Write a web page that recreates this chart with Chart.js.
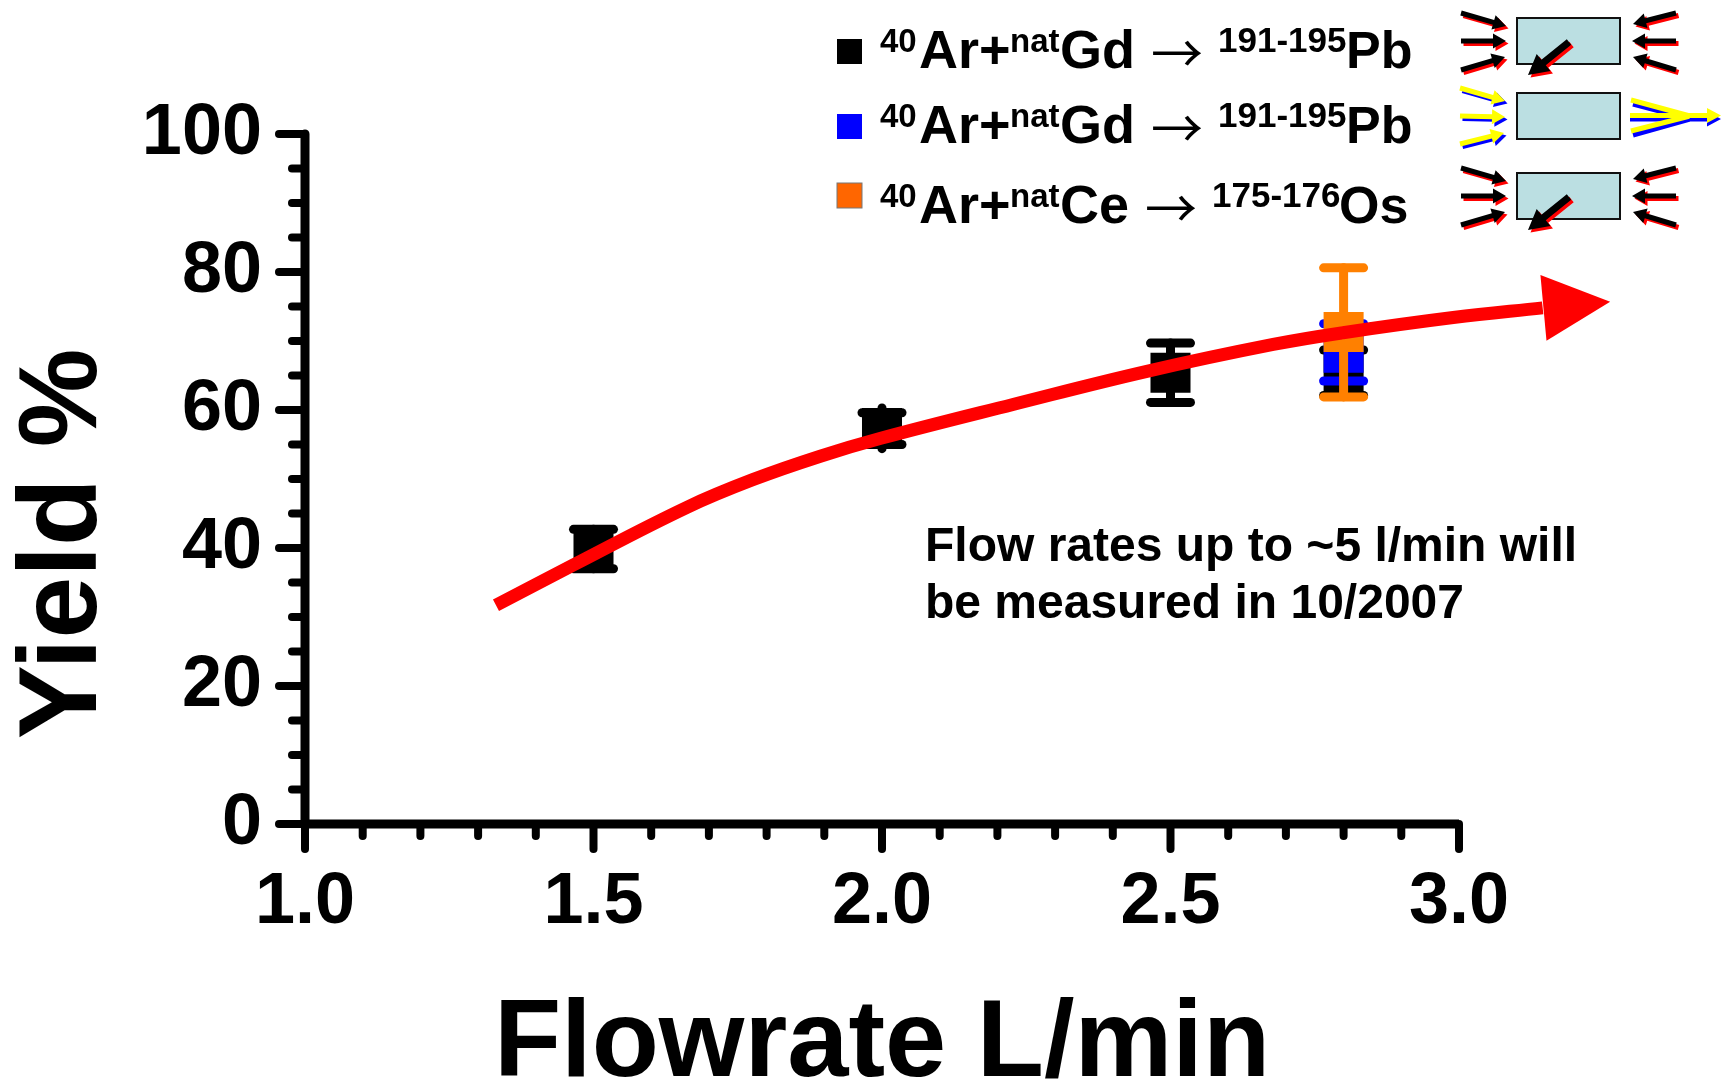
<!DOCTYPE html>
<html>
<head>
<meta charset="utf-8">
<title>Yield vs flowrate</title>
<script src="https://cdn.jsdelivr.net/npm/chart.js@4"></script>
<style>
  body { margin: 0; background: #fff; }
  canvas { display: block; }
</style>
</head>
<body>
<canvas id="yield-chart" width="1721" height="1089"></canvas>
<script>
const xTickLabels = ["1.0", "1.5", "2.0", "2.5", "3.0"];
const yTickLabels = ["0", "20", "40", "60", "80", "100"];

// 40Ar+natGd, first target
const blackX = [1.5, 2.0, 2.5, 2.8];
const blackY = [39.9, 57.4, 65.4, 65.4];
const blackHigh = [42.7, 59.6, 69.7, 68.7];
const blackLow = [37.0, 55.0, 61.1, 62.1];
const blackStemHigh = [42.7, 60.3, 69.7, 68.7];
const blackStemLow = [37.0, 54.4, 61.1, 62.1];

// 40Ar+natGd, second target
const blueX = [2.8];
const blueY = [68.3];
const blueHigh = [72.5];
const blueLow = [64.2];

// 40Ar+natCe
const orangeX = [2.8];
const orangeY = [71.3];
const orangeHigh = [80.6];
const orangeLow = [61.9];

// hand drawn trend line, only one point may sit past the axis end
const curveX = [1.331, 1.464, 1.662, 1.776, 1.893, 1.998, 2.227, 2.459, 2.678, 2.799, 2.99, 3.145];
const curveY = [31.7, 37.5, 45.9, 49.9, 53.3, 55.9, 60.8, 65.6, 69.5, 71.2, 73.4, 74.8];
const curveTip = [3.262, 75.7];

const note = ["Flow rates up to ~5 l/min will", "be measured in 10/2007"];

const sansBold = (size) => `bold ${size}px "Liberation Sans"`;
const red = "#ff0000";
const black = "#000000";
const blue = "#0000ff";
const orange = "#ff8000";

const toPoints = (xs, ys) => xs.map((x, i) => ({ x: x, y: ys[i] }));

const errorBars = [
  { color: orange, xs: orangeX, high: orangeHigh, low: orangeLow },
  { color: blue, xs: blueX, high: blueHigh, low: blueLow },
  { color: black, xs: blackX, high: blackHigh, low: blackLow, stemHigh: blackStemHigh, stemLow: blackStemLow },
];

const strokeLine = (ctx, x1, y1, x2, y2, color, width, cap) => {
  ctx.beginPath();
  ctx.moveTo(x1, y1);
  ctx.lineTo(x2, y2);
  ctx.strokeStyle = color;
  ctx.lineWidth = width;
  ctx.lineCap = cap || "round";
  ctx.stroke();
};

// axis lines and rounded ticks, placed by the scales
const axesPlugin = {
  id: "axes",
  beforeDatasetsDraw(chart) {
    const { ctx, scales } = chart;
    const x0 = scales.x.getPixelForValue(1);
    const y0 = scales.y.getPixelForValue(0);
    scales.x.ticks.forEach((t) => {
      const px = scales.x.getPixelForValue(t.value);
      strokeLine(ctx, px, y0, px, y0 + (t.label ? 25 : 12), black, 8);
    });
    scales.y.ticks.forEach((t) => {
      const py = scales.y.getPixelForValue(t.value);
      strokeLine(ctx, x0, py, x0 - (t.label ? 26 : 13), py, black, 8);
    });
    strokeLine(ctx, x0, y0, scales.x.right, y0, black, 9, "butt");
    strokeLine(ctx, x0, y0, x0, scales.y.top, black, 9);
  },
};

const errorPlugin = {
  id: "errors",
  beforeDatasetDraw(chart, args) {
    const bars = errorBars[args.index - 1];
    if (!bars) return;
    const { ctx, scales } = chart;
    bars.xs.forEach((x, i) => {
      const px = scales.x.getPixelForValue(x);
      const top = scales.y.getPixelForValue(bars.high[i]);
      const bottom = scales.y.getPixelForValue(bars.low[i]);
      const stemTop = bars.stemHigh ? scales.y.getPixelForValue(bars.stemHigh[i]) : top;
      const stemBottom = bars.stemLow ? scales.y.getPixelForValue(bars.stemLow[i]) : bottom;
      strokeLine(ctx, px, stemTop, px, stemBottom, bars.color, 9);
      strokeLine(ctx, px - 20, top, px + 20, top, bars.color, 9);
      strokeLine(ctx, px - 20, bottom, px + 20, bottom, bars.color, 9);
    });
  },
};

const arrowHeadPlugin = {
  id: "arrowHead",
  afterDatasetsDraw(chart) {
    const { ctx, scales } = chart;
    const last = curveX.length - 1;
    const fromX = scales.x.getPixelForValue(curveX[last]);
    const fromY = scales.y.getPixelForValue(curveY[last]);
    const tipX = scales.x.getPixelForValue(curveTip[0]);
    const tipY = scales.y.getPixelForValue(curveTip[1]);
    const len = Math.hypot(tipX - fromX, tipY - fromY);
    const ux = (tipX - fromX) / len;
    const uy = (tipY - fromY) / len;
    const baseX = tipX - 67 * ux;
    const baseY = tipY - 67 * uy;
    ctx.beginPath();
    ctx.moveTo(tipX, tipY);
    ctx.lineTo(baseX - 33 * uy, baseY + 33 * ux);
    ctx.lineTo(baseX + 33 * uy, baseY - 33 * ux);
    ctx.closePath();
    ctx.fillStyle = red;
    ctx.fill();
  },
};

// ---- key and target sketches ----
const drawArrow = (ctx, tail, tip, color, shaft, headW, headL) => {
  const len = Math.hypot(tip[0] - tail[0], tip[1] - tail[1]);
  const ux = (tip[0] - tail[0]) / len;
  const uy = (tip[1] - tail[1]) / len;
  const bx = tip[0] - headL * ux;
  const by = tip[1] - headL * uy;
  ctx.beginPath();
  ctx.moveTo(tail[0] - (uy * shaft) / 2, tail[1] + (ux * shaft) / 2);
  ctx.lineTo(bx - (uy * shaft) / 2, by + (ux * shaft) / 2);
  ctx.lineTo(bx - (uy * headW) / 2, by + (ux * headW) / 2);
  ctx.lineTo(tip[0], tip[1]);
  ctx.lineTo(bx + (uy * headW) / 2, by - (ux * headW) / 2);
  ctx.lineTo(bx + (uy * shaft) / 2, by - (ux * shaft) / 2);
  ctx.lineTo(tail[0] + (uy * shaft) / 2, tail[1] - (ux * shaft) / 2);
  ctx.closePath();
  ctx.fillStyle = color;
  ctx.fill();
};

const shadowArrow = (ctx, tail, tip, color, shadow, shaft, headW, headL) => {
  const t = [tail[0] + 2.5, tail[1] + 2.5];
  const h = [tip[0] + 2.5, tip[1] + 2.5];
  drawArrow(ctx, t, h, shadow, shaft, headW, headL);
  drawArrow(ctx, tail, tip, color, shaft, headW, headL);
};

const inArrows = [
  [[1461, 13], [1506, 26]],
  [[1461, 41], [1506, 41]],
  [[1461, 70], [1505, 57]],
];
const outArrows = [
  [[1676, 13], [1633, 24]],
  [[1676, 41], [1632, 41]],
  [[1676, 70], [1633, 57]],
];

const drawTarget = (ctx, top, height) => {
  ctx.fillStyle = "#bbdfe2";
  ctx.fillRect(1517, top, 103, height);
  ctx.strokeStyle = "#111";
  ctx.lineWidth = 2;
  ctx.strokeRect(1517, top, 103, height);
};

const drawStopped = (ctx, dy) => {
  drawTarget(ctx, 18 + dy, 46);
  inArrows.concat(outArrows).forEach(([a, b]) => {
    shadowArrow(ctx, [a[0], a[1] + dy], [b[0], b[1] + dy], black, red, 5, 15, 13);
  });
  shadowArrow(ctx, [1569, 42 + dy], [1528, 75 + dy], black, red, 7, 22, 20);
};

const drawFlowThrough = (ctx) => {
  drawTarget(ctx, 93, 46);
  const yellow = "#ffff00";
  [
    [[1460, 88], [1505, 101]],
    [[1460, 116], [1505, 117]],
    [[1460, 144], [1504, 133]],
  ].forEach(([a, b]) => shadowArrow(ctx, a, b, yellow, blue, 5, 15, 13));
  const tail = [
    [[1631, 100], [1690, 116]],
    [[1631, 131], [1690, 116]],
  ];
  tail.forEach(([a, b]) => drawArrow(ctx, [a[0] + 2, a[1] + 4], [b[0], b[1] + 3], blue, 5, 5, 1));
  drawArrow(ctx, [1630, 119], [1721, 119], blue, 5, 15, 14);
  tail.forEach(([a, b]) => drawArrow(ctx, a, b, yellow, 5, 5, 1));
  drawArrow(ctx, [1630, 115.5], [1721, 115.5], yellow, 5, 15, 14);
};

const keyRows = [
  { color: "#000000", top: 39, base: 68, parts: ["40", "Ar+", "nat", "Gd", "\u2192", "191-195", "Pb"], at: [880, 919, 1010, 1060, 1152, 1218, 1346] },
  { color: "#0000ff", top: 114, base: 143, parts: ["40", "Ar+", "nat", "Gd", "\u2192", "191-195", "Pb"], at: [880, 919, 1010, 1060, 1152, 1218, 1346] },
  { color: "#ff6600", top: 183, base: 223, parts: ["40", "Ar+", "nat", "Ce", "\u2192", "175-176", "Os"], at: [880, 919, 1010, 1060, 1146, 1212, 1339] },
];

const keyPlugin = {
  id: "key",
  afterDraw(chart) {
    const { ctx } = chart;
    ctx.save();
    ctx.textAlign = "left";
    ctx.textBaseline = "alphabetic";

    keyRows.forEach((row) => {
      ctx.fillStyle = row.color;
      ctx.fillRect(837, row.top, 25, 25);
      if (row.color === "#ff6600") {
        ctx.strokeStyle = "#777";
        ctx.lineWidth = 1;
        ctx.strokeRect(837, row.top, 25, 25);
      }
      ctx.fillStyle = black;
      row.parts.forEach((part, i) => {
        if (i === 4) {
          ctx.font = '52px "Noto Sans CJK SC"';
          ctx.fillText(part, row.at[i] - 1, row.base + 5);
        } else if (i === 5) {
          ctx.font = sansBold(35);
          ctx.fillText(part, row.at[i], row.base - 16);
        } else if (i === 0 || i === 2) {
          ctx.font = sansBold(33);
          ctx.fillText(part, row.at[i], row.base - 16);
        } else {
          ctx.font = sansBold(i === 6 ? 52 : 54);
          ctx.fillText(part, row.at[i], row.base);
        }
      });
    });

    drawStopped(ctx, 0);
    drawFlowThrough(ctx);
    drawStopped(ctx, 155);

    ctx.fillStyle = black;
    ctx.font = sansBold(48);
    ctx.fillText(note[0], 925, 561);
    ctx.fillText(note[1], 925, 618);

    ctx.translate(96, 544);
    ctx.rotate(-Math.PI / 2);
    ctx.textAlign = "center";
    ctx.font = sansBold(111);
    ctx.fillText("Yield %", 0, 0);
    ctx.restore();
  },
};

const config = {
  type: "scatter",
  data: {
    datasets: [
      {
        label: "Trend",
        data: toPoints(curveX, curveY),
        showLine: true,
        borderColor: red,
        borderWidth: 13,
        borderCapStyle: "butt",
        pointRadius: 0,
        tension: 0.4,
        clip: false,
      },
      {
        label: "40Ar+natCe",
        data: toPoints(orangeX, orangeY),
        backgroundColor: orange,
        borderWidth: 0,
        pointStyle: "rect",
        pointRadius: 28.3,
        clip: false,
      },
      {
        label: "40Ar+natGd open",
        data: toPoints(blueX, blueY),
        backgroundColor: blue,
        borderWidth: 0,
        pointStyle: "rect",
        pointRadius: 28.3,
        clip: false,
      },
      {
        label: "40Ar+natGd",
        data: toPoints(blackX, blackY),
        backgroundColor: black,
        borderWidth: 0,
        pointStyle: "rect",
        pointRadius: 28.3,
        clip: false,
      },
    ],
  },
  options: {
    responsive: false,
    animation: false,
    layout: { padding: { top: 134, right: 262 } },
    plugins: {
      legend: { display: false },
      tooltip: { enabled: false },
    },
    scales: {
      x: {
        type: "linear",
        min: 1,
        max: 3,
        afterFit: (scale) => {
          scale.height = 265;
        },
        border: { display: false },
        grid: { display: false, drawTicks: false },
        ticks: {
          stepSize: 0.1,
          autoSkip: false,
          maxRotation: 0,
          padding: 36,
          color: black,
          font: { family: "Liberation Sans", weight: "bold", size: 72 },
          callback: (value) => xTickLabels.find((l) => Math.abs(Number(l) - value) < 1e-6) || "",
        },
        title: {
          display: true,
          text: "Flowrate L/min",
          color: black,
          font: { family: "Liberation Sans", weight: "bold", size: 110, lineHeight: 0.78 },
          padding: 0,
        },
      },
      y: {
        type: "linear",
        min: 0,
        max: 100,
        afterFit: (scale) => {
          scale.width = 305;
        },
        border: { display: false },
        grid: { display: false, drawTicks: false },
        ticks: {
          stepSize: 5,
          autoSkip: false,
          padding: 43,
          color: black,
          font: { family: "Liberation Sans", weight: "bold", size: 72 },
          callback: (value) => (yTickLabels.includes(String(value)) ? String(value) : ""),
        },
      },
    },
  },
  plugins: [axesPlugin, errorPlugin, arrowHeadPlugin, keyPlugin],
};

const yieldChart = new Chart(document.getElementById("yield-chart"), config);
</script>
</body>
</html>
